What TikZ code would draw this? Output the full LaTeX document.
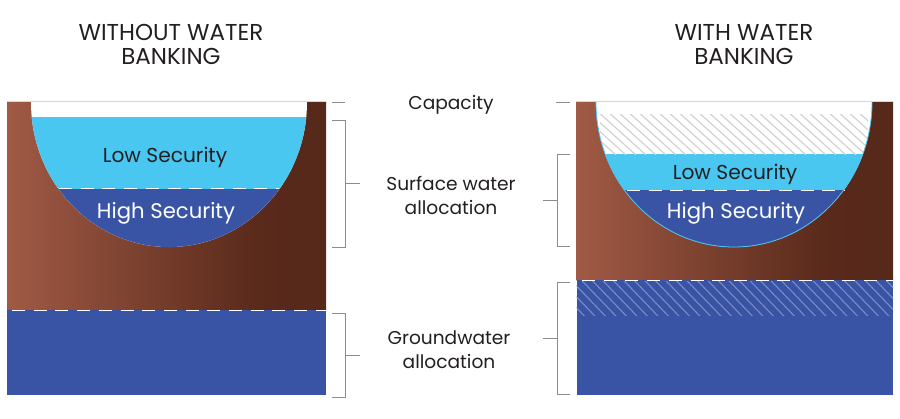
\documentclass[tikz,border=0pt]{standalone}
\usepackage{fontspec}
\setmainfont{Poppins}
\definecolor{lowblue}{HTML}{4AC7F0}
\definecolor{highblue}{HTML}{3954A4}
\definecolor{bracketgray}{HTML}{8C8C8C}
\definecolor{hatchgray}{HTML}{CFCFCF}
\definecolor{hatchblue}{HTML}{7A8CC6}
\definecolor{rimline}{HTML}{DDD2CC}
\definecolor{inktext}{HTML}{231F20}
\definecolor{soilA}{HTML}{A05A45}
\definecolor{soilB}{HTML}{5A2A1B}
\definecolor{soilC}{HTML}{57291B}
\pgfdeclarehorizontalshading{soil}{100bp}{color(0bp)=(soilA); color(25bp)=(soilA); color(64bp)=(soilB); color(70bp)=(soilC); color(75bp)=(soilC); color(100bp)=(soilC)}
\tikzset{
	heading/.style={font=\fontsize{23}{24}\selectfont, text=inktext, align=center, inner sep=0pt},
	caption/.style={font=\fontsize{18.6}{24}\selectfont, text=inktext, align=center, inner sep=0pt},
	lowlevel/.style={font=\fontsize{20.2}{22}\selectfont, text=inktext, inner sep=0pt},
	highlevel/.style={font=\fontsize{21.2}{22}\selectfont, text=white, inner sep=0pt},
	bracket/.style={bracketgray, line width=0.9pt},
	waterline/.style={white, line width=1pt, dash pattern=on 13pt off 8.7pt},
}

\begin{document}
\begin{tikzpicture}[x=1pt, y=-1pt]
	\newcommand\basinedge{(0,0) -- (0,1) arc[start angle=180, end angle=0, x radius=138, y radius=145] -- (276,0)}
	\newcommand\basin{\basinedge -- cycle}
	\newcommand\sidebracket[5]{ %% argument 1: tip x, 2: spine x, 3: top y, 4: bottom y, 5: stem end x
		\draw[bracket] (#1,#3) -- (#2,#3) -- (#2,#4) -- (#1,#4);
		\draw[bracket] (#2,{(#3+#4)/2}) -- (#5,{(#3+#4)/2});
	}
	\useasboundingbox (0,0) rectangle (900,418);

	%% left panel
	\shade[shading=soil] (7,101) rectangle (326,310);
	\fill[highblue] (7,310) rectangle (326,395);
	\begin{scope}[shift={(31,101)}]
		\fill[white] \basin;
		\clip \basin;
		\fill[lowblue] (0,16) rectangle (276,88);
		\fill[highblue] (0,88) rectangle (276,146);
	\end{scope}
	\draw[rimline, line width=0.7pt] (7,101.5) -- (326,101.5);
	\draw[waterline] (59,188.5) -- (279,188.5);
	\draw[waterline] (12,310) -- (326,310);

	%% right panel
	\shade[shading=soil] (576.5,101) rectangle (893,280);
	\fill[highblue] (576.5,280) rectangle (893,395);
	\begin{scope}[shift={(596,101)}]
		\fill[white] \basin;
		\begin{scope}
			\clip \basin;
			\fill[lowblue] (0,53) rectangle (276,89);
			\fill[highblue] (0,89) rectangle (276,146);
			\begin{scope}
				\clip (4,13) rectangle (272,53);
				\foreach \i in {-6,...,28}
					\draw[hatchgray, line width=1.1pt] (\i*10,0) -- ++(60,54);
			\end{scope}
		\end{scope}
		\draw[lowblue, line width=0.8pt] \basinedge;
	\end{scope}
	\draw[rimline, line width=0.7pt] (576.5,101.5) -- (893,101.5);
	\begin{scope}
		\clip (576.5,281) rectangle (893,315);
		\foreach \i in {-5,...,31}
			\draw[hatchblue, line width=1.1pt] (576.5+\i*10.5,275) -- ++(48,50);
	\end{scope}
	\draw[waterline] (627,190) -- (845,190);
	\draw[waterline] (582,280) -- (893,280);

	%% titles and labels
	\node[heading] (leftTitle) at (171,44.5) {WITHOUT WATER\\BANKING};
	\node[heading] (rightTitle) at (744,44.5) {WITH WATER\\BANKING};
	\node[caption] (capacity) at (451,105) {Capacity};
	\node[caption] (surface) at (451,195) {Surface water\\allocation};
	\node[caption] (ground) at (449,349.5) {Groundwater\\allocation};
	\node[lowlevel] (lowLeft) at (165,157) {Low Security};
	\node[highlevel] (highLeft) at (166,213.5) {High Security};
	\node[lowlevel] (lowRight) at (735,174) {Low Security};
	\node[highlevel] (highRight) at (736,213.5) {High Security};

	%% brackets
	\draw[bracket] (332,102) -- (345,102);
	\sidebracket{332}{345}{120}{247}{360}
	\sidebracket{332}{345}{313.5}{397}{360}
	\draw[bracket] (556,102) -- (570,102);
	\sidebracket{570}{557}{154.5}{246.5}{543}
	\sidebracket{570}{557}{282}{394}{543}
\end{tikzpicture}
\end{document}
